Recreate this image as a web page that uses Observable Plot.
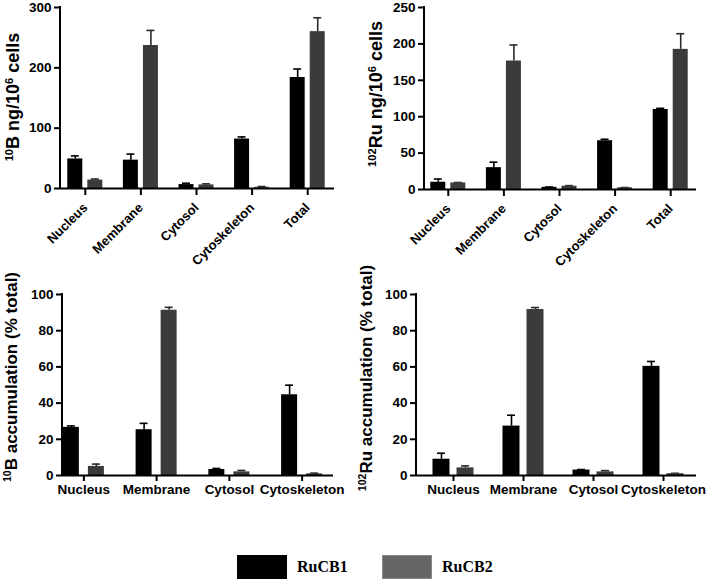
<!DOCTYPE html>
<html>
<head>
<meta charset="utf-8">
<script src="https://cdn.jsdelivr.net/npm/d3@7"></script>
<script src="https://cdn.jsdelivr.net/npm/@observablehq/plot@0.6"></script>
<style>
  body { margin: 0; background: #fff; }
  #root { position: relative; width: 708px; height: 581px; overflow: hidden; background: #fff;
          font-family: "Liberation Sans", Arial, sans-serif; }
  .panel { position: absolute; }
  .ytitle { position: absolute; font-weight: bold; white-space: nowrap; line-height: 1;
            transform: translate(-50%, -50%) rotate(-90deg); color: #000; }
  .ytitle sup { font-size: 0.62em; vertical-align: 0.55em; line-height: 0; }
  .legend-item { position: absolute; font-family: "Liberation Serif", "Times New Roman", serif;
                 font-weight: bold; font-size: 16px; color: #000; line-height: 1; }
  .swatch { position: absolute; }
</style>
</head>
<body>
<div id="root"></div>
<script>
// ---------- data ----------
const series = ["RuCB1", "RuCB2"];
const amountCategories = ["Nucleus", "Membrane", "Cytosol", "Cytoskeleton", "Total"];
const percentCategories = ["Nucleus", "Membrane", "Cytosol", "Cytoskeleton"];

// 10B ng / 10^6 cells
const boronAmountRuCB1 = [49, 47, 6.5, 82, 184];
const boronAmountRuCB1Err = [5, 10, 2.2, 3.5, 14];
const boronAmountRuCB2 = [14, 237, 6, 2, 260];
const boronAmountRuCB2Err = [1.7, 25, 1.7, 1.3, 23];

// 102Ru ng / 10^6 cells
const rutheniumAmountRuCB1 = [10, 30, 3, 67, 110];
const rutheniumAmountRuCB1Err = [4.4, 7.5, 0.4, 2, 1.5];
const rutheniumAmountRuCB2 = [9, 176.5, 4.5, 2.3, 192.5];
const rutheniumAmountRuCB2Err = [0.6, 22, 0.8, 0.4, 21.5];

// 10B accumulation (% total)
const boronPercentRuCB1 = [26.6, 25.3, 3.3, 44.6];
const boronPercentRuCB1Err = [0.8, 3.5, 0.6, 5.3];
const boronPercentRuCB2 = [5, 91.3, 2, 0.9];
const boronPercentRuCB2Err = [1.3, 1.6, 0.8, 0.4];

// 102Ru accumulation (% total)
const rutheniumPercentRuCB1 = [9, 27.3, 3, 60.3];
const rutheniumPercentRuCB1Err = [3.3, 6, 0.3, 2.7];
const rutheniumPercentRuCB2 = [4.2, 91.7, 2, 1];
const rutheniumPercentRuCB2Err = [1.1, 1.1, 0.7, 0.2];

const amountTicksB = [0, 100, 200, 300];
const amountTicksRu = [0, 50, 100, 150, 200, 250];
const percentTicks = [0, 20, 40, 60, 80, 100];

// ---------- helpers ----------
function rows(cats, v1, e1, v2, e2) {
  const out = [];
  cats.forEach((c, i) => {
    out.push({category: c, series: series[0], value: v1[i], err: e1[i]});
    out.push({category: c, series: series[1], value: v2[i], err: e2[i]});
  });
  return out;
}

const barColors = ["#000000", "#3b3b3b"];
const root = document.getElementById("root");

function panel(o) {
  const step = (o.xRange[1] - o.xRange[0]) / o.cats.length;
  const bw = step * (1 - o.padIn);
  const inset = bw - o.barW;
  const cap = 4;
  const a = o.data.filter(d => d.series === series[0]);
  const b = o.data.filter(d => d.series === series[1]);
  const top = d => d.value + d.err;
  const svg = Plot.plot({
    width: o.width, height: o.height,
    marginLeft: o.mL, marginRight: o.mR, marginTop: o.mT, marginBottom: o.mB,
    style: {fontFamily: '"Liberation Sans", Arial, sans-serif', fontWeight: "bold", fontSize: "13px",
            color: "#000", background: "transparent", overflow: "visible"},
    x: {domain: o.cats, range: o.xRange, paddingInner: o.padIn, paddingOuter: o.padIn / 2, round: false, label: null},
    y: {domain: o.yDomain, label: null},
    color: {domain: series, range: barColors},
    marks: [
      Plot.ruleX(a, {x: "category", y1: "value", y2: top, dx: -inset / 2, stroke: "#000", strokeWidth: 1.6}),
      Plot.tickY(a, {x: "category", y: top, insetLeft: o.barW / 2 - cap, insetRight: bw - o.barW / 2 - cap, stroke: "#000", strokeWidth: 1.6}),
      Plot.ruleX(b, {x: "category", y1: "value", y2: top, dx: inset / 2, stroke: "#2a2a2a", strokeWidth: 1.6}),
      Plot.tickY(b, {x: "category", y: top, insetLeft: bw - o.barW / 2 - cap, insetRight: o.barW / 2 - cap, stroke: "#2a2a2a", strokeWidth: 1.6}),
      Plot.barY(a, {x: "category", y: "value", fill: "series", insetRight: inset}),
      Plot.barY(b, {x: "category", y: "value", fill: "series", insetLeft: inset}),
      Plot.ruleY([0], {stroke: "#000", strokeWidth: 2}),
      Plot.axisY({ticks: o.yTicks, tickSize: 6, tickPadding: 3, strokeWidth: 2, label: null, fontSize: 13.5}),
      o.rotate
        ? Plot.axisX({tickSize: 7, tickPadding: 10, tickRotate: -45, strokeWidth: 2, label: null, fontSize: 13})
        : Plot.axisX({tickSize: 6, tickPadding: 3, strokeWidth: 2, label: null, fontSize: 13.5})
    ]
  });
  // y axis line along the left edge of the frame
  d3.select(svg).append("line")
    .attr("x1", o.mL).attr("x2", o.mL)
    .attr("y1", o.mT - 1).attr("y2", o.height - o.mB + 1)
    .attr("stroke", "#000").attr("stroke-width", 2);
  const div = document.createElement("div");
  div.className = "panel";
  div.style.left = o.left + "px";
  div.style.top = o.top + "px";
  div.appendChild(svg);
  root.appendChild(div);

  const t = document.createElement("div");
  t.className = "ytitle";
  t.style.left = o.titleX + "px";
  t.style.top = o.titleY + "px";
  t.style.fontSize = o.titleSize + "px";
  t.innerHTML = o.title;
  root.appendChild(t);
}

panel({
  data: rows(amountCategories, boronAmountRuCB1, boronAmountRuCB1Err, boronAmountRuCB2, boronAmountRuCB2Err),
  cats: amountCategories, yDomain: [0, 300], yTicks: amountTicksB,
  left: 0, top: 0, width: 354, height: 255, mL: 60, mR: 20, mT: 7, mB: 67,
  xRange: [57, 335], padIn: 0.37, barW: 15, rotate: true,
  title: "<sup>10</sup>B ng/10<sup>6</sup> cells", titleX: 13, titleY: 97, titleSize: 18
});
panel({
  data: rows(amountCategories, rutheniumAmountRuCB1, rutheniumAmountRuCB1Err, rutheniumAmountRuCB2, rutheniumAmountRuCB2Err),
  cats: amountCategories, yDomain: [0, 250], yTicks: amountTicksRu,
  left: 354, top: 0, width: 354, height: 255, mL: 70, mR: 12, mT: 7, mB: 66,
  xRange: [66, 344], padIn: 0.37, barW: 15, rotate: true,
  title: "<sup>102</sup>Ru ng/10<sup>6</sup> cells", titleX: 376, titleY: 94, titleSize: 18
});
panel({
  data: rows(percentCategories, boronPercentRuCB1, boronPercentRuCB1Err, boronPercentRuCB2, boronPercentRuCB2Err),
  cats: percentCategories, yDomain: [0, 100], yTicks: percentTicks,
  left: 0, top: 260, width: 354, height: 240, mL: 62, mR: 21, mT: 34, mB: 25,
  xRange: [47, 338], padIn: 0.436, barW: 16, rotate: false,
  title: "<sup>10</sup>B accumulation (% total)", titleX: 11, titleY: 377, titleSize: 17
});
panel({
  data: rows(percentCategories, rutheniumPercentRuCB1, rutheniumPercentRuCB1Err, rutheniumPercentRuCB2, rutheniumPercentRuCB2Err),
  cats: percentCategories, yDomain: [0, 100], yTicks: percentTicks,
  left: 354, top: 260, width: 354, height: 240, mL: 62, mR: 12, mT: 34, mB: 25,
  xRange: [64, 344], padIn: 0.414, barW: 17, rotate: false,
  title: "<sup>102</sup>Ru accumulation (% total)", titleX: 366, titleY: 378, titleSize: 17
});

// ---------- legend ----------
const legendColors = ["#000000", "#666666"];
const legendX = [237, 382];
series.forEach((s, i) => {
  const sw = document.createElement("div");
  sw.className = "swatch";
  sw.style.left = legendX[i] + "px";
  sw.style.top = "555px";
  sw.style.width = "50px";
  sw.style.height = "24px";
  sw.style.background = legendColors[i];
  sw.style.boxSizing = "border-box";
  if (i === 1) sw.style.border = "1px solid #8a8a8a";
  root.appendChild(sw);
  const tx = document.createElement("div");
  tx.className = "legend-item";
  tx.style.left = (legendX[i] + 60) + "px";
  tx.style.top = "559px";
  tx.textContent = s;
  root.appendChild(tx);
});
</script>
</body>
</html>
